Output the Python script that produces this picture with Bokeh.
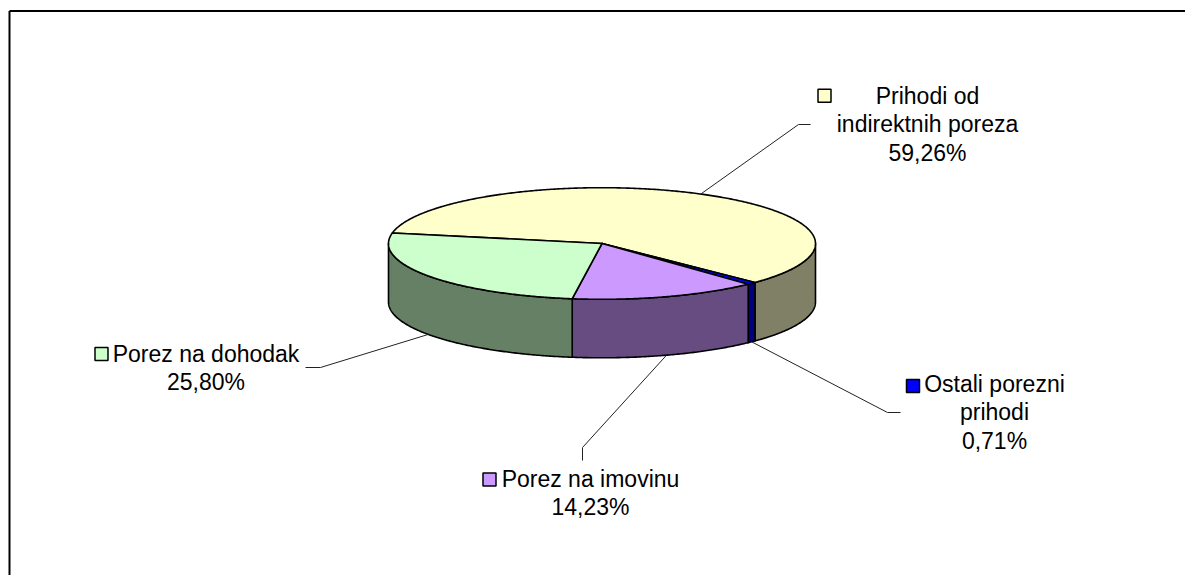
import numpy as np
from bokeh.plotting import figure
from bokeh.models import Range1d
from bokeh.core.properties import value
from bokeh.embed import file_html
from bokeh.resources import INLINE

# ---- data ----
categories = ["Prihodi od indirektnih poreza", "Ostali porezni prihodi",
              "Porez na imovinu", "Porez na dohodak"]
values = [59.26, 0.71, 14.23, 25.80]
label_lines = [["Prihodi od", "indirektnih poreza"], ["Ostali porezni", "prihodi"],
               ["Porez na imovinu"], ["Porez na dohodak"]]

# ---- style ----
top_colors = ["#FFFFCC", "#0000FF", "#CC99FF", "#CCFFCC"]
side_colors = ["#808066", "#000080", "#664C80", "#668066"]

W, H = 1185, 575
CX, CY, RA, RB, DEPTH = 601.5, 243.0, 213.5, 55.8, 58.5
START = 169.1  # math degrees; slices run clockwise

# label layout (pixel positions)
lab_x = [927, 994, 590, 205.5]
lab_y = [95, 383, 478, 353]
LINE_STEP = 28.5
key_x = [824, 912.5, 489, 101]
key_y = [95.3, 385.5, 479, 353.5]
elbow_x = [798, 887, 582, 320]
elbow_y = [124, 412, 447, 367]
tail_x = [810, 900, 582, 305]
tail_y = [124, 412, 460, 367]

p = figure(width=W, height=H, x_range=Range1d(0, W), y_range=Range1d(H, 0),
           output_backend="svg", toolbar_location=None, min_border=0)
p.axis.visible = False
p.grid.visible = False
p.outline_line_color = None
p.background_fill_color = "white"
p.border_fill_color = "white"

# chart border (left and top visible)
p.segment(x0=[9, 9], y0=[10.5, 10.5], x1=[9, W], y1=[H, 10.5],
          line_color="black", line_width=2)


def pt(theta, dz=0.0):
    t = np.radians(theta)
    return CX + RA * np.cos(t), CY - RB * np.sin(t) + dz


fr = np.array(values) / np.sum(values)
ends = START - 360 * np.cumsum(fr)
starts = np.concatenate([[START], ends[:-1]])

top_xs, top_ys, side_xs, side_ys, side_cols = [], [], [], [], []
for i in range(len(values)):
    a0, a1 = ends[i], starts[i]
    n = max(4, int((a1 - a0) * 2))
    th = np.linspace(a0, a1, n)
    x, y = pt(th)
    top_xs.append([CX] + list(x))
    top_ys.append([CY] + list(y))
    for lo, hi in ((-180, 0), (180, 360)):
        l, h = max(a0, lo), min(a1, hi)
        if h > l:
            m = max(3, int((h - l) * 2))
            tt = np.linspace(l, h, m)
            xt, yt = pt(tt)
            xb, yb = pt(tt[::-1], DEPTH)
            side_xs.append(list(xt) + list(xb))
            side_ys.append(list(yt) + list(yb))
            side_cols.append(side_colors[i])

p.patches(side_xs, side_ys, fill_color=side_cols, line_color="black", line_width=1.6,
          line_join="round")
p.patches(top_xs, top_ys, fill_color=top_colors, line_color="black", line_width=1.6,
          line_join="round")

# leader lines
lx, ly = [], []
for i in range(len(values)):
    mid = (ends[i] + starts[i]) / 2
    dz = 0.0 if np.sin(np.radians(mid)) > 0 else DEPTH
    sx, sy = pt(mid, dz)
    lx.append([sx, elbow_x[i], tail_x[i]])
    ly.append([sy, elbow_y[i], tail_y[i]])
p.multi_line(lx, ly, line_color="#222222", line_width=1)

# labels
tx, ty, tt = [], [], []
for i, lines in enumerate(label_lines):
    pct = f"{values[i]:.2f}%".replace(".", ",")
    for j, s in enumerate(lines + [pct]):
        tx.append(lab_x[i])
        ty.append(lab_y[i] + j * LINE_STEP)
        tt.append(s)
p.text(x=tx, y=ty, text=tt, text_align="center", text_baseline="middle",
       text_font=value("Liberation Sans"), text_font_size=value("23px"), text_color="black")

p.rect(x=key_x, y=key_y, width=13, height=13, fill_color=top_colors,
       line_color="black", line_width=1.5)

open("out.html", "w").write(file_html(p, INLINE))
